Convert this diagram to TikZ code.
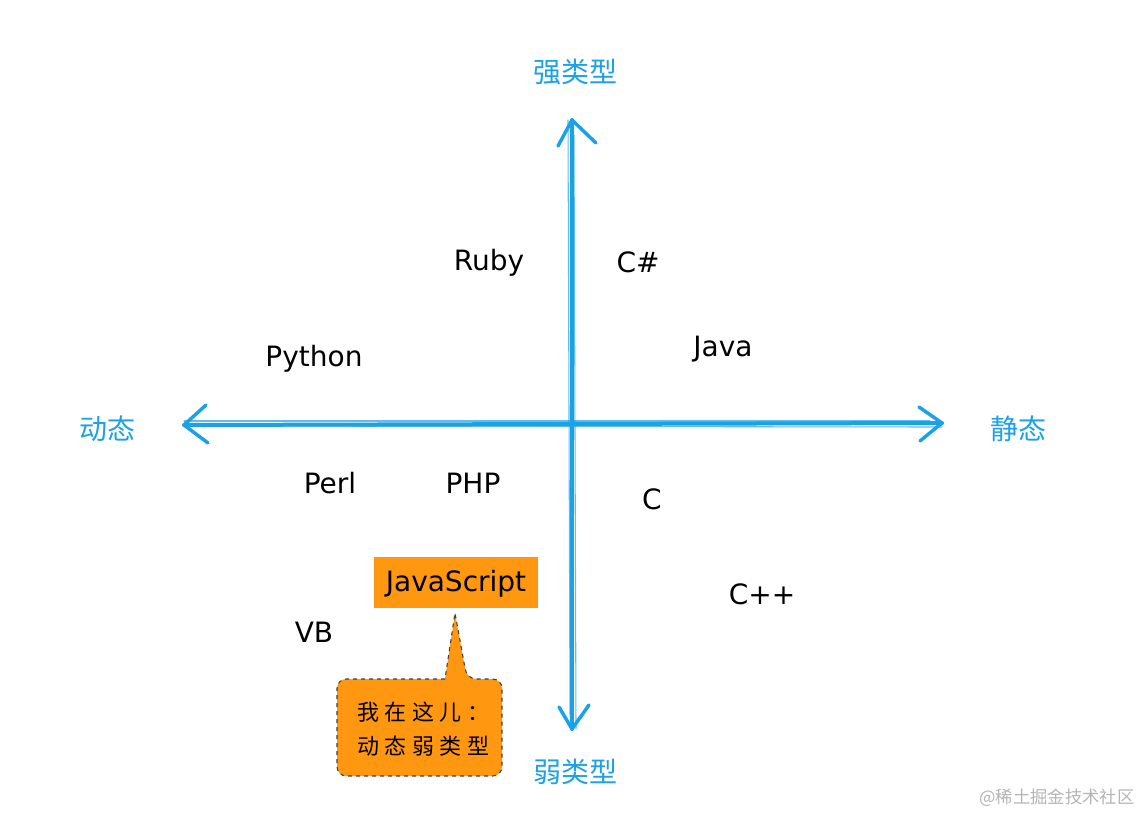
\documentclass[tikz,border=0pt]{standalone}
\usepackage{fontspec}
\setmainfont{DejaVu Sans}
\newfontfamily\cjk{Noto Sans CJK SC}
\newfontfamily\cjkwide[LetterSpace=25]{Noto Sans CJK SC}
\definecolor{axblue}{HTML}{1DA1E6}
\definecolor{jsorange}{HTML}{FF9810}
\definecolor{wmgray}{HTML}{B4B4B4}
\begin{document}
\begin{tikzpicture}[x=0.75pt,y=-0.75pt,
  lang/.style={font=\fontsize{21}{24}\selectfont, text=black, inner sep=0pt},
  axlabel/.style={font=\cjk\fontsize{21}{24}\selectfont, text=axblue, inner sep=0pt},
  axisline/.style={draw=axblue, line width=3pt, line cap=round},
  axisthin/.style={draw=axblue, line width=0.8pt, line cap=round, opacity=0.7},
  chevron/.style={draw=axblue, line width=2.6pt, line cap=round, line join=round},
  callout/.style={draw=black!75, dashed, line width=0.8pt, fill=jsorange, rounded corners=7pt},
]
\useasboundingbox (0,0) rectangle (1142,815);
% axes coordinates
\coordinate (L) at (184,425);
\coordinate (R) at (942,423);
\coordinate (T) at (572,120);
\coordinate (B) at (572,729);
\coordinate (Ls) at (200,426);
\coordinate (Rs) at (930,421);
\coordinate (Ts) at (574,135);
\coordinate (Bs) at (570,715);
% sketchy axis strokes
\draw[axisline] (L) -- (R);
\draw[axisthin] (Ls) -- ([yshift=-3]R);
\draw[axisthin] ([yshift=3]L) -- (Rs);
\draw[axisline] (T) -- (B);
\draw[axisthin] (Ts) -- ([xshift=3]B);
\draw[axisthin] ([xshift=-3]T) -- (Bs);
% chevrons
\coordinate (la) at (206,405); \coordinate (lb) at (208,443);
\coordinate (ra) at (919,407); \coordinate (rb) at (920,441);
\coordinate (ta) at (558,146); \coordinate (tb) at (596,143);
\coordinate (ba) at (559,707); \coordinate (bb) at (589,705);
\draw[chevron] (la) -- (L) -- (lb);
\draw[chevron] (ra) -- (R) -- (rb);
\draw[chevron] (ta) -- (T) -- (tb);
\draw[chevron] (ba) -- (B) -- (bb);
% axis labels
\node[axlabel] (strong) at (575,72) {强类型};
\node[axlabel] (weak) at (575,772) {弱类型};
\node[axlabel] (dyn) at (107,429) {动态};
\node[axlabel] (stat) at (1018,429) {静态};
% languages
\node[lang] (ruby) at (489,263) {Ruby};
\node[lang] (csharp) at (638,262) {C\#};
\node[lang] (java) at (723,349) {Java};
\node[lang] (python) at (314,359) {Python};
\node[lang] (perl) at (330,483) {Perl};
\node[lang] (php) at (473,483) {PHP};
\node[lang] (c) at (652,499) {C};
\node[lang] (cpp) at (762,594) {C++};
\node[lang] (vb) at (314,632) {VB};
% JavaScript box
\fill[jsorange] (374,557) rectangle (538,608);
\node[lang] (js) at (456,584) {JavaScript};
% callout
\coordinate (tip) at (455,613);
\draw[callout] (445,679) -- (337,679) -- (337,776) -- (502,776) -- (502,679) -- (467,679) [sharp corners] -- (tip) -- cycle;
\node[font=\cjkwide\fontsize{16.5}{25}\selectfont, align=left, inner sep=0pt] (note) at (423,729) {我在这儿：\\动态弱类型};
% watermark
\node[font=\cjk\fontsize{13}{15}\selectfont, text=wmgray, inner sep=0pt] (wm) at (1057,798) {@稀土掘金技术社区};
\end{tikzpicture}
\end{document}
